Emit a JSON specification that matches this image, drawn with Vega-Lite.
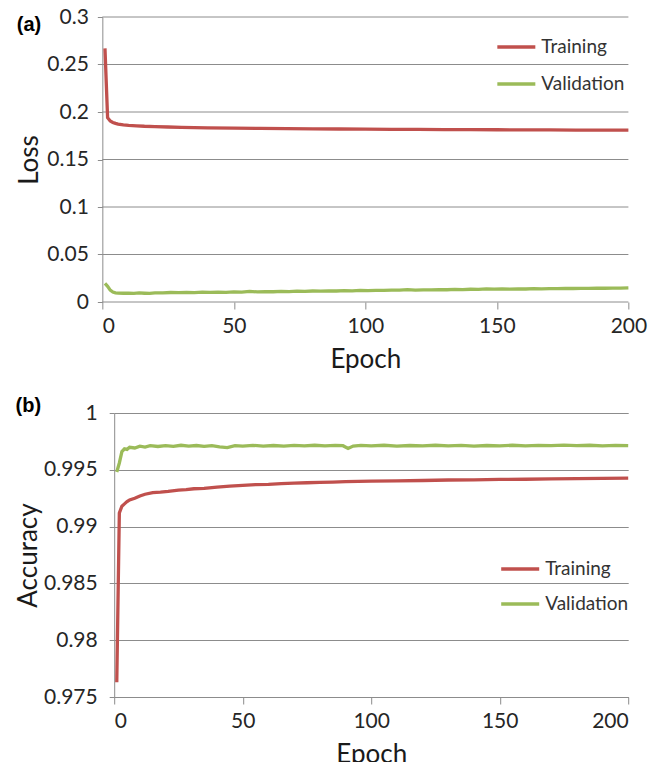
{
  "$schema": "https://vega.github.io/schema/vega-lite/v6.json",
  "background": "white",
  "padding": {"left": 15, "top": 6, "right": 8, "bottom": 0},
  "spacing": 24,
  "center": true,
  "config": {
    "font": "Lato",
    "view": {"stroke": null},
    "axis": {
      "labelFont": "Lato",
      "labelFontSize": 21,
      "labelColor": "#262626",
      "titleFont": "Lato",
      "titleFontSize": 26,
      "titleFontWeight": "normal",
      "titleColor": "#1a1a1a",
      "domainColor": "#8c8c8c",
      "tickColor": "#8c8c8c",
      "gridColor": "#8c8c8c",
      "gridWidth": 1,
      "domainWidth": 1
    },
    "axisX": {"grid": false, "tickSize": 7, "labelPadding": 6, "titlePadding": 10},
    "axisY": {"grid": true, "tickSize": 5, "labelPadding": 9, "titlePadding": 4},
    "legend": {
      "orient": "none",
      "title": null,
      "symbolType": "stroke",
      "symbolSize": 1444,
      "symbolStrokeWidth": 3.5,
      "labelFont": "Lato",
      "labelFontSize": 19,
      "labelColor": "#333333",
      "labelOffset": 4,
      "padding": 0,
      "rowPadding": 6
    },
    "title": {"font": "Liberation Sans", "fontWeight": "bold", "fontSize": 20, "color": "#000000", "anchor": "start", "frame": "bounds"}
  },
  "resolve": {"scale": {"color": "independent"}, "legend": {"color": "independent"}},
  "datasets": {
    "lossgrid": [
      {"g": 0}, {"g": 0.05}, {"g": 0.1}, {"g": 0.15}, {"g": 0.2}, {"g": 0.25}, {"g": 0.3}
    ],
    "loss": [
      {"e": 1, "s": "Training", "v": 0.267},
      {"e": 2, "s": "Training", "v": 0.194},
      {"e": 3, "s": "Training", "v": 0.1905},
      {"e": 4, "s": "Training", "v": 0.189},
      {"e": 5, "s": "Training", "v": 0.188},
      {"e": 6, "s": "Training", "v": 0.1873},
      {"e": 8, "s": "Training", "v": 0.1865},
      {"e": 10, "s": "Training", "v": 0.186},
      {"e": 13, "s": "Training", "v": 0.1855},
      {"e": 16, "s": "Training", "v": 0.185},
      {"e": 20, "s": "Training", "v": 0.1846},
      {"e": 25, "s": "Training", "v": 0.1842},
      {"e": 30, "s": "Training", "v": 0.1838},
      {"e": 35, "s": "Training", "v": 0.1835},
      {"e": 40, "s": "Training", "v": 0.1833},
      {"e": 50, "s": "Training", "v": 0.183},
      {"e": 60, "s": "Training", "v": 0.1827},
      {"e": 70, "s": "Training", "v": 0.1825},
      {"e": 80, "s": "Training", "v": 0.1823},
      {"e": 90, "s": "Training", "v": 0.1821},
      {"e": 100, "s": "Training", "v": 0.1819},
      {"e": 110, "s": "Training", "v": 0.1818},
      {"e": 120, "s": "Training", "v": 0.1817},
      {"e": 130, "s": "Training", "v": 0.1815},
      {"e": 140, "s": "Training", "v": 0.1814},
      {"e": 150, "s": "Training", "v": 0.1813},
      {"e": 160, "s": "Training", "v": 0.1812},
      {"e": 170, "s": "Training", "v": 0.1811},
      {"e": 180, "s": "Training", "v": 0.181},
      {"e": 190, "s": "Training", "v": 0.181},
      {"e": 200, "s": "Training", "v": 0.1809},
      {"e": 1, "s": "Validation", "v": 0.0195},
      {"e": 2, "s": "Validation", "v": 0.0165},
      {"e": 3, "s": "Validation", "v": 0.0125},
      {"e": 4, "s": "Validation", "v": 0.0105},
      {"e": 5, "s": "Validation", "v": 0.0097},
      {"e": 6, "s": "Validation", "v": 0.0094},
      {"e": 8, "s": "Validation", "v": 0.0092},
      {"e": 10, "s": "Validation", "v": 0.0093},
      {"e": 12, "s": "Validation", "v": 0.0091},
      {"e": 14, "s": "Validation", "v": 0.0095},
      {"e": 16, "s": "Validation", "v": 0.0092},
      {"e": 18, "s": "Validation", "v": 0.009},
      {"e": 20, "s": "Validation", "v": 0.0095},
      {"e": 23, "s": "Validation", "v": 0.0097},
      {"e": 26, "s": "Validation", "v": 0.01},
      {"e": 29, "s": "Validation", "v": 0.0098},
      {"e": 32, "s": "Validation", "v": 0.0101},
      {"e": 35, "s": "Validation", "v": 0.0099},
      {"e": 38, "s": "Validation", "v": 0.0103},
      {"e": 41, "s": "Validation", "v": 0.0101},
      {"e": 44, "s": "Validation", "v": 0.0104},
      {"e": 47, "s": "Validation", "v": 0.0102},
      {"e": 50, "s": "Validation", "v": 0.0106},
      {"e": 53, "s": "Validation", "v": 0.0104},
      {"e": 56, "s": "Validation", "v": 0.0111},
      {"e": 59, "s": "Validation", "v": 0.0106},
      {"e": 62, "s": "Validation", "v": 0.0109},
      {"e": 65, "s": "Validation", "v": 0.0108},
      {"e": 68, "s": "Validation", "v": 0.0112},
      {"e": 71, "s": "Validation", "v": 0.011},
      {"e": 74, "s": "Validation", "v": 0.0114},
      {"e": 77, "s": "Validation", "v": 0.0112},
      {"e": 80, "s": "Validation", "v": 0.0116},
      {"e": 83, "s": "Validation", "v": 0.0114},
      {"e": 86, "s": "Validation", "v": 0.0117},
      {"e": 89, "s": "Validation", "v": 0.0116},
      {"e": 92, "s": "Validation", "v": 0.012},
      {"e": 95, "s": "Validation", "v": 0.0118},
      {"e": 98, "s": "Validation", "v": 0.0122},
      {"e": 101, "s": "Validation", "v": 0.012},
      {"e": 104, "s": "Validation", "v": 0.0123},
      {"e": 107, "s": "Validation", "v": 0.0122},
      {"e": 110, "s": "Validation", "v": 0.0125},
      {"e": 113, "s": "Validation", "v": 0.0124},
      {"e": 116, "s": "Validation", "v": 0.013},
      {"e": 119, "s": "Validation", "v": 0.0125},
      {"e": 122, "s": "Validation", "v": 0.0128},
      {"e": 125, "s": "Validation", "v": 0.0127},
      {"e": 128, "s": "Validation", "v": 0.013},
      {"e": 131, "s": "Validation", "v": 0.0129},
      {"e": 134, "s": "Validation", "v": 0.0132},
      {"e": 137, "s": "Validation", "v": 0.0131},
      {"e": 140, "s": "Validation", "v": 0.0134},
      {"e": 143, "s": "Validation", "v": 0.0133},
      {"e": 146, "s": "Validation", "v": 0.0139},
      {"e": 149, "s": "Validation", "v": 0.0135},
      {"e": 152, "s": "Validation", "v": 0.0137},
      {"e": 155, "s": "Validation", "v": 0.0136},
      {"e": 158, "s": "Validation", "v": 0.0138},
      {"e": 161, "s": "Validation", "v": 0.0137},
      {"e": 164, "s": "Validation", "v": 0.014},
      {"e": 167, "s": "Validation", "v": 0.0139},
      {"e": 170, "s": "Validation", "v": 0.0141},
      {"e": 173, "s": "Validation", "v": 0.014},
      {"e": 176, "s": "Validation", "v": 0.0143},
      {"e": 179, "s": "Validation", "v": 0.0142},
      {"e": 182, "s": "Validation", "v": 0.0144},
      {"e": 185, "s": "Validation", "v": 0.0143},
      {"e": 188, "s": "Validation", "v": 0.0146},
      {"e": 191, "s": "Validation", "v": 0.0145},
      {"e": 194, "s": "Validation", "v": 0.0147},
      {"e": 197, "s": "Validation", "v": 0.0146},
      {"e": 200, "s": "Validation", "v": 0.0148}
    ],
    "acc": [
      {"e": 1, "s": "Training", "v": 0.9763},
      {"e": 2, "s": "Training", "v": 0.9912},
      {"e": 3, "s": "Training", "v": 0.9918},
      {"e": 4, "s": "Training", "v": 0.992},
      {"e": 5, "s": "Training", "v": 0.9922},
      {"e": 6, "s": "Training", "v": 0.99235},
      {"e": 8, "s": "Training", "v": 0.9925},
      {"e": 10, "s": "Training", "v": 0.9927},
      {"e": 12, "s": "Training", "v": 0.99285},
      {"e": 15, "s": "Training", "v": 0.993},
      {"e": 18, "s": "Training", "v": 0.99303},
      {"e": 21, "s": "Training", "v": 0.9931},
      {"e": 25, "s": "Training", "v": 0.99322},
      {"e": 28, "s": "Training", "v": 0.99325},
      {"e": 31, "s": "Training", "v": 0.99333},
      {"e": 35, "s": "Training", "v": 0.99336},
      {"e": 40, "s": "Training", "v": 0.99348},
      {"e": 45, "s": "Training", "v": 0.99356},
      {"e": 50, "s": "Training", "v": 0.99362},
      {"e": 55, "s": "Training", "v": 0.9937},
      {"e": 60, "s": "Training", "v": 0.99372},
      {"e": 65, "s": "Training", "v": 0.99378},
      {"e": 70, "s": "Training", "v": 0.99382},
      {"e": 75, "s": "Training", "v": 0.99386},
      {"e": 80, "s": "Training", "v": 0.9939},
      {"e": 85, "s": "Training", "v": 0.99392},
      {"e": 90, "s": "Training", "v": 0.99396},
      {"e": 95, "s": "Training", "v": 0.99398},
      {"e": 100, "s": "Training", "v": 0.994},
      {"e": 110, "s": "Training", "v": 0.99403},
      {"e": 120, "s": "Training", "v": 0.99406},
      {"e": 130, "s": "Training", "v": 0.9941},
      {"e": 140, "s": "Training", "v": 0.99412},
      {"e": 150, "s": "Training", "v": 0.99415},
      {"e": 160, "s": "Training", "v": 0.99417},
      {"e": 170, "s": "Training", "v": 0.9942},
      {"e": 180, "s": "Training", "v": 0.99422},
      {"e": 190, "s": "Training", "v": 0.99425},
      {"e": 200, "s": "Training", "v": 0.99426},
      {"e": 1, "s": "Validation", "v": 0.9948},
      {"e": 2, "s": "Validation", "v": 0.9956},
      {"e": 3, "s": "Validation", "v": 0.9966},
      {"e": 4, "s": "Validation", "v": 0.99685},
      {"e": 5, "s": "Validation", "v": 0.9968},
      {"e": 6, "s": "Validation", "v": 0.99698},
      {"e": 8, "s": "Validation", "v": 0.99692},
      {"e": 10, "s": "Validation", "v": 0.99708},
      {"e": 12, "s": "Validation", "v": 0.997},
      {"e": 14, "s": "Validation", "v": 0.99712},
      {"e": 17, "s": "Validation", "v": 0.99705},
      {"e": 20, "s": "Validation", "v": 0.99713},
      {"e": 23, "s": "Validation", "v": 0.99706},
      {"e": 26, "s": "Validation", "v": 0.99716},
      {"e": 29, "s": "Validation", "v": 0.99709},
      {"e": 32, "s": "Validation", "v": 0.99714},
      {"e": 35, "s": "Validation", "v": 0.99707},
      {"e": 38, "s": "Validation", "v": 0.99713},
      {"e": 41, "s": "Validation", "v": 0.99702},
      {"e": 44, "s": "Validation", "v": 0.99696},
      {"e": 47, "s": "Validation", "v": 0.99712},
      {"e": 50, "s": "Validation", "v": 0.99708},
      {"e": 54, "s": "Validation", "v": 0.99715},
      {"e": 58, "s": "Validation", "v": 0.99709},
      {"e": 62, "s": "Validation", "v": 0.99714},
      {"e": 66, "s": "Validation", "v": 0.99708},
      {"e": 70, "s": "Validation", "v": 0.99715},
      {"e": 74, "s": "Validation", "v": 0.9971},
      {"e": 78, "s": "Validation", "v": 0.99716},
      {"e": 82, "s": "Validation", "v": 0.9971},
      {"e": 86, "s": "Validation", "v": 0.99715},
      {"e": 89, "s": "Validation", "v": 0.99712},
      {"e": 91, "s": "Validation", "v": 0.99688},
      {"e": 93, "s": "Validation", "v": 0.99709},
      {"e": 96, "s": "Validation", "v": 0.99715},
      {"e": 100, "s": "Validation", "v": 0.99711},
      {"e": 105, "s": "Validation", "v": 0.99716},
      {"e": 110, "s": "Validation", "v": 0.99709},
      {"e": 115, "s": "Validation", "v": 0.99714},
      {"e": 120, "s": "Validation", "v": 0.9971},
      {"e": 125, "s": "Validation", "v": 0.99716},
      {"e": 130, "s": "Validation", "v": 0.99711},
      {"e": 135, "s": "Validation", "v": 0.99715},
      {"e": 140, "s": "Validation", "v": 0.99709},
      {"e": 145, "s": "Validation", "v": 0.99714},
      {"e": 150, "s": "Validation", "v": 0.9971},
      {"e": 155, "s": "Validation", "v": 0.99716},
      {"e": 160, "s": "Validation", "v": 0.99711},
      {"e": 165, "s": "Validation", "v": 0.99715},
      {"e": 170, "s": "Validation", "v": 0.99712},
      {"e": 175, "s": "Validation", "v": 0.99718},
      {"e": 180, "s": "Validation", "v": 0.99712},
      {"e": 185, "s": "Validation", "v": 0.99716},
      {"e": 190, "s": "Validation", "v": 0.99711},
      {"e": 195, "s": "Validation", "v": 0.99715},
      {"e": 200, "s": "Validation", "v": 0.99713}
    ]
  },
  "vconcat": [
    {
      "title": {"text": "(a)", "offset": -29},
      "width": 540,
      "height": 285,
      "layer": [
        {
          "data": {"name": "lossgrid"},
          "mark": {"type": "rule", "color": "#8c8c8c", "strokeWidth": 1},
          "encoding": {
            "x": {"datum": 0, "type": "quantitative", "title": "Epoch",
                  "scale": {"domain": [0, 205.3], "nice": false},
                  "axis": {"values": [0, 50, 100, 150, 200], "domain": false, "titleX": 263}},
            "x2": {"datum": 200},
            "y": {"field": "g", "type": "quantitative", "title": "Loss",
                  "scale": {"domain": [0, 0.3], "nice": false},
                  "axis": {"values": [0, 0.05, 0.1, 0.15, 0.2, 0.25, 0.3], "format": "~g", "grid": false}}
          }
        },
        {
          "data": {"name": "loss"},
          "mark": {"type": "line", "strokeWidth": 3.3},
          "encoding": {
            "x": {"field": "e", "type": "quantitative", "title": "Epoch",
                  "scale": {"domain": [0, 205.3], "nice": false},
                  "axis": {"values": [0, 50, 100, 150, 200], "domain": false, "titleX": 263}},
            "y": {"field": "v", "type": "quantitative", "title": "Loss",
                  "scale": {"domain": [0, 0.3], "nice": false},
                  "axis": {"values": [0, 0.05, 0.1, 0.15, 0.2, 0.25, 0.3], "format": "~g", "grid": false}},
            "color": {"field": "s", "type": "nominal",
                      "scale": {"domain": ["Training", "Validation"], "range": ["#C0504D", "#9BBB59"]},
                      "legend": {"legendX": 393, "legendY": 9}}
          }
        }
      ]
    },
    {
      "title": {"text": "(b)", "offset": -14},
      "width": 514,
      "height": 284,
      "data": {"name": "acc"},
      "mark": {"type": "line", "strokeWidth": 3.3},
      "encoding": {
        "x": {"field": "e", "type": "quantitative", "title": "Epoch",
              "scale": {"domain": [0, 200], "nice": false},
              "axis": {"values": [0, 50, 100, 150, 200]}},
        "y": {"field": "v", "type": "quantitative", "title": "Accuracy",
              "scale": {"domain": [0.975, 1], "nice": false, "zero": false},
              "axis": {"values": [0.975, 0.98, 0.985, 0.99, 0.995, 1], "format": "~g", "labelPadding": 12, "titlePadding": 2}},
        "color": {"field": "s", "type": "nominal",
                  "scale": {"domain": ["Training", "Validation"], "range": ["#C0504D", "#9BBB59"]},
                  "legend": {"legendX": 385, "legendY": 135, "rowPadding": 4}}
      }
    }
  ]
}
